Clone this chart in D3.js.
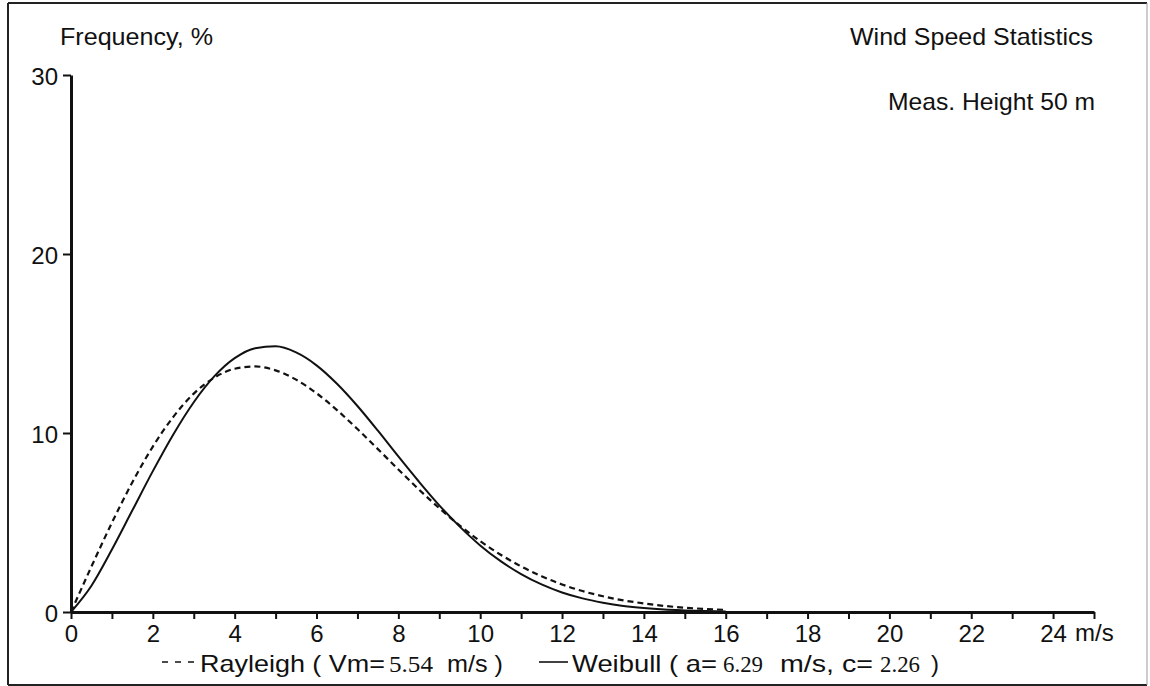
<!DOCTYPE html>
<html>
<head>
<meta charset="utf-8">
<script src="https://cdn.jsdelivr.net/npm/d3@7"></script>
<style>
  html, body { margin: 0; padding: 0; background: #fff; }
  svg { display: block; }
  text { font-family: "Liberation Sans", Arial, sans-serif; fill: #111; }
  .serif { font-family: "Liberation Serif", "Times New Roman", serif; }
</style>
</head>
<body>
<svg id="chart" width="1150" height="686"></svg>
<script>
// ---- data ----
const speeds = [0,0.5,1,1.5,2,2.5,3,3.5,4,4.5,5,5.5,6,6.5,7,7.5,8,8.5,9,9.5,10,10.5,11,11.5,12,12.5,13,13.5,14,14.5,15,15.5,16];
const rayleigh = [0,2.54,4.99,7.25,9.24,10.90,12.20,13.09,13.59,13.72,13.50,12.98,12.22,11.28,10.22,9.10,7.96,6.85,5.80,4.83,3.96,3.20,2.55,2.00,1.54,1.17,0.88,0.65,0.48,0.34,0.24,0.17,0.12];
const weibull = [0,1.47,3.49,5.68,7.87,9.92,11.72,13.16,14.18,14.74,14.84,14.50,13.78,12.75,11.51,10.13,8.69,7.29,5.96,4.77,3.72,2.84,2.12,1.54,1.09,0.76,0.52,0.34,0.22,0.14,0.09,0.05,0.03];
const xTicks = [0,1,2,3,4,5,6,7,8,9,10,11,12,13,14,15,16,17,18,19,20,21,22,23,24,25];
const xTickLabels = ["0","","2","","4","","6","","8","","10","","12","","14","","16","","18","","20","","22","","24",""];
const yTicks = [0,10,20,30];
const yTickLabels = ["0","10","20","30"];
const yTitle = "Frequency, %";
const title = "Wind Speed Statistics";
const subtitle = "Meas. Height 50 m";
const xUnit = "m/s";
// legend pieces: text, font class, left x, rendered width
const legendPieces = [
  ["Rayleigh ( Vm=", "", 200, 185],
  ["5.54", "serif", 389, 44],
  ["m/s )", "", 447, 56],
  ["Weibull ( a=", "", 572, 145],
  ["6.29", "serif", 723, 40],
  ["m/s, c=", "", 780, 93],
  ["2.26", "serif", 880, 40],
  [")", "", 931, 0]
];

// ---- drawing ----
const svg = d3.select("#chart");
const x = d3.scaleLinear().domain([0, 25]).range([71, 1094]);
const y = d3.scaleLinear().domain([0, 30]).range([612, 75]);

// outer frame
svg.append("line").attr("x1",8).attr("y1",3).attr("x2",1147).attr("y2",3).attr("stroke","#222").attr("stroke-width",2);
svg.append("line").attr("x1",8).attr("y1",3).attr("x2",8).attr("y2",685).attr("stroke","#222").attr("stroke-width",2);
svg.append("line").attr("x1",8).attr("y1",685).attr("x2",1147).attr("y2",685).attr("stroke","#222").attr("stroke-width",2);
svg.append("line").attr("x1",1147).attr("y1",3).attr("x2",1147).attr("y2",685).attr("stroke","#999").attr("stroke-width",1);

// x axis
const xAxis = d3.axisBottom(x).tickValues(xTicks)
  .tickFormat((d,i) => xTickLabels[i]).tickSize(7).tickSizeOuter(0).tickPadding(6);
const gx = svg.append("g").attr("transform", `translate(0,${y(0)})`).call(xAxis);
gx.select(".domain").attr("stroke","#111").attr("stroke-width",3);
gx.selectAll(".tick line").attr("stroke","#111").attr("stroke-width",2);
gx.selectAll(".tick text").attr("font-size",24).attr("fill","#111")
  .attr("font-family","Liberation Sans, Arial, sans-serif");
svg.append("text").attr("x", 1075).attr("y", 641).attr("font-size",24).text(xUnit);

// y axis
const yAxis = d3.axisLeft(y).tickValues(yTicks)
  .tickFormat((d,i) => yTickLabels[i]).tickSize(8).tickSizeOuter(0).tickPadding(5);
const gy = svg.append("g").attr("transform", `translate(${x(0)},0)`).call(yAxis);
gy.select(".domain").attr("stroke","#111").attr("stroke-width",3);
gy.selectAll(".tick line").attr("stroke","#111").attr("stroke-width",2);
gy.selectAll(".tick text").attr("font-size",24).attr("fill","#111").attr("dy","0.38em")
  .attr("font-family","Liberation Sans, Arial, sans-serif");

// titles
svg.append("text").attr("x",60).attr("y",45).attr("font-size",24)
  .attr("textLength",153).attr("lengthAdjust","spacingAndGlyphs").text(yTitle);
svg.append("text").attr("x",850).attr("y",45).attr("font-size",24)
  .attr("textLength",243).attr("lengthAdjust","spacingAndGlyphs").text(title);
svg.append("text").attr("x",888).attr("y",110).attr("font-size",24)
  .attr("textLength",207).attr("lengthAdjust","spacingAndGlyphs").text(subtitle);

// curves
const line = d3.line().x((d,i) => x(speeds[i])).y(d => y(d)).curve(d3.curveMonotoneX);
svg.append("path").datum(rayleigh).attr("d", line).attr("fill","none")
  .attr("stroke","#111").attr("stroke-width",2.2).attr("stroke-dasharray","6,4");
svg.append("path").datum(weibull).attr("d", line).attr("fill","none")
  .attr("stroke","#111").attr("stroke-width",2);

// legend
svg.append("line").attr("x1",162).attr("x2",197).attr("y1",662).attr("y2",662)
  .attr("stroke","#111").attr("stroke-width",1.6).attr("stroke-dasharray","6,7");
svg.append("line").attr("x1",539).attr("x2",568).attr("y1",662).attr("y2",662)
  .attr("stroke","#111").attr("stroke-width",1.6);
legendPieces.forEach(([s, c, lx, w]) => {
  const t = svg.append("text").attr("class", c).attr("x", lx).attr("y", 672).attr("font-size", 24).text(s);
  if (w > 0) t.attr("textLength", w).attr("lengthAdjust", "spacingAndGlyphs");
});
</script>
</body>
</html>
